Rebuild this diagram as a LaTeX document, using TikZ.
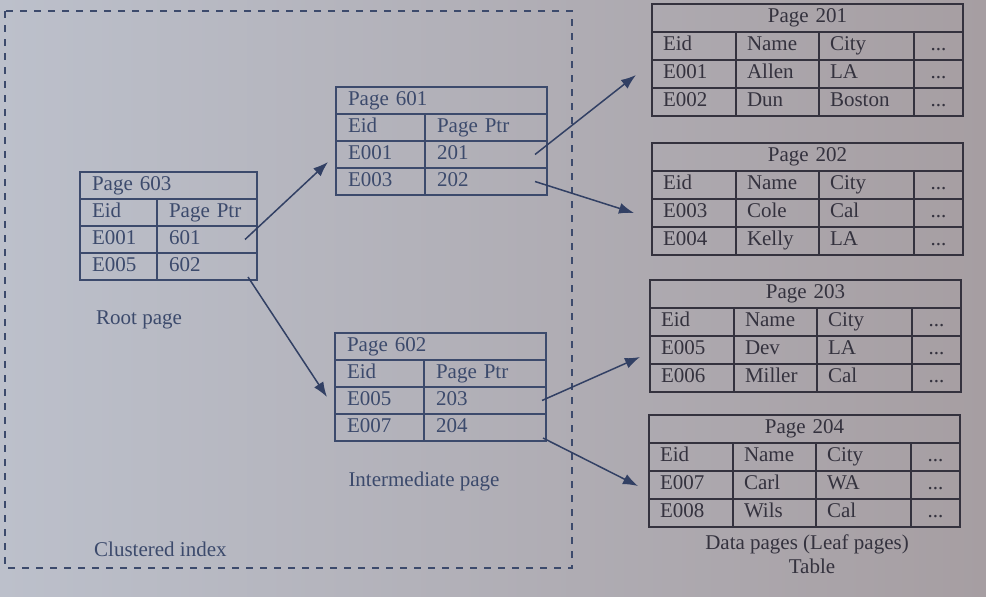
\documentclass[tikz,border=0pt]{standalone}
\usepackage{fontspec}
\setmainfont{Liberation Serif}
\usetikzlibrary{arrows.meta}
\definecolor{bgL}{RGB}{188,192,203}
\definecolor{bgR}{RGB}{166,158,162}
\definecolor{inkL}{RGB}{60,74,108}
\definecolor{inkR}{RGB}{52,50,62}
\definecolor{arrowc}{RGB}{50,64,100}
\tikzset{
  base/.style={line width=1.4pt, inner ysep=0pt, outer sep=0pt, text height=14pt,
    text depth=4.5pt, font=\fontsize{21}{24}\selectfont, anchor=north west},
  icell/.style={base, draw=inkL, text=inkL, minimum height=27, inner xsep=12pt, align=left},
  lcell/.style={base, draw=inkR, text=inkR, minimum height=28, inner xsep=11pt, align=left},
  rootA/.style={minimum width=77, text width=53pt},
  rootB/.style={minimum width=100, text width=76pt},
  rootT/.style={minimum width=177, text width=153pt},
  midA/.style={minimum width=89, text width=65pt},
  midB/.style={minimum width=122, text width=98pt},
  midT/.style={minimum width=211, text width=187pt},
  colA/.style={minimum width=84, text width=62pt},
  colB/.style={minimum width=83, text width=61pt},
  colC/.style={minimum width=95, text width=73pt},
  colD/.style={minimum width=49, text width=27pt, align=center},
  colT/.style={minimum width=311, text width=289pt, align=center},
  label/.style={font=\fontsize{21}{24}\selectfont, inner sep=0pt},
  arr/.style={draw=arrowc, line width=1.5pt, -{Latex[length=15pt,width=11pt]}},
  dashbox/.style={draw=inkL, line width=1.8pt, dash pattern=on 7pt off 7pt}
}
\newcommand\idxtable[8]{%
  \node[icell,#3T] (#1) at #2 {#4};
  \node[icell,#3A] (#1-h1) at (#1.south west) {Eid};
  \node[icell,#3B] (#1-h2) at (#1-h1.north east) {Page Ptr};
  \node[icell,#3A] (#1-a1) at (#1-h1.south west) {#5};
  \node[icell,#3B] (#1-a2) at (#1-a1.north east) {#6};
  \node[icell,#3A] (#1-b1) at (#1-a1.south west) {#7};
  \node[icell,#3B] (#1-b2) at (#1-b1.north east) {#8};
}
\newcommand\leaftable[9]{%
  \node[lcell,colT] (#1) at #2 {#3};
  \node[lcell,colA] (#1-h1) at (#1.south west) {Eid};
  \node[lcell,colB] (#1-h2) at (#1-h1.north east) {Name};
  \node[lcell,colC] (#1-h3) at (#1-h2.north east) {City};
  \node[lcell,colD] (#1-h4) at (#1-h3.north east) {...};
  \node[lcell,colA] (#1-a1) at (#1-h1.south west) {#4};
  \node[lcell,colB] (#1-a2) at (#1-a1.north east) {#5};
  \node[lcell,colC] (#1-a3) at (#1-a2.north east) {#6};
  \node[lcell,colD] (#1-a4) at (#1-a3.north east) {...};
  \node[lcell,colA] (#1-b1) at (#1-a1.south west) {#7};
  \node[lcell,colB] (#1-b2) at (#1-b1.north east) {#8};
  \node[lcell,colC] (#1-b3) at (#1-b2.north east) {#9};
  \node[lcell,colD] (#1-b4) at (#1-b3.north east) {...};
}
\begin{document}
\begin{tikzpicture}[x=1pt,y=-1pt]
  \useasboundingbox (0,0) rectangle (986,597);
  \shade[left color=bgL, right color=bgR] (0,0) rectangle (986,597);
  % clustered index frame
  \draw[dashbox] (5,11) rectangle (572,568);
  % index pages
  \idxtable{t603}{(80,172)}{root}{Page 603}{E001}{601}{E005}{602}
  \idxtable{t601}{(336,87)}{mid}{Page 601}{E001}{201}{E003}{202}
  \idxtable{t602}{(335,333)}{mid}{Page 602}{E005}{203}{E007}{204}
  % data pages
  \leaftable{t201}{(652,4)}{Page 201}{E001}{Allen}{LA}{E002}{Dun}{Boston}
  \leaftable{t202}{(652,143)}{Page 202}{E003}{Cole}{Cal}{E004}{Kelly}{LA}
  \leaftable{t203}{(650,280)}{Page 203}{E005}{Dev}{LA}{E006}{Miller}{Cal}
  \leaftable{t204}{(649,415)}{Page 204}{E007}{Carl}{WA}{E008}{Wils}{Cal}
  % labels
  \node[label, text=inkL, anchor=base west] (lroot) at (96,324) {Root page};
  \node[label, text=inkL, anchor=base] (lmid) at (424,486) {Intermediate page};
  \node[label, text=inkL, anchor=base west] (lclu) at (94,556) {Clustered index};
  \node[label, text=inkR, anchor=base] (ldata) at (807,549) {Data pages (Leaf pages)};
  \node[label, text=inkR, anchor=base] (ltab) at (812,573) {Table};
  % arrow tips
  \coordinate (e1) at (328,162);
  \coordinate (e2) at (327,397);
  \coordinate (e3) at (636,75);
  \coordinate (e4) at (634,213);
  \coordinate (e5) at (640,357);
  \coordinate (e6) at (638,486);
  % pointers
  \draw[arr] ([xshift=-12pt]t603-a2.east) -- (e1);
  \draw[arr] ([xshift=-9pt,yshift=3pt]t603-b2.south east) -- (e2);
  \draw[arr] ([xshift=-12pt]t601-a2.east) -- (e3);
  \draw[arr] ([xshift=-12pt]t601-b2.east) -- (e4);
  \draw[arr] ([xshift=-4pt]t602-a2.east) -- (e5);
  \draw[arr] ([xshift=-3pt,yshift=3pt]t602-b2.south east) -- (e6);
\end{tikzpicture}
\end{document}
